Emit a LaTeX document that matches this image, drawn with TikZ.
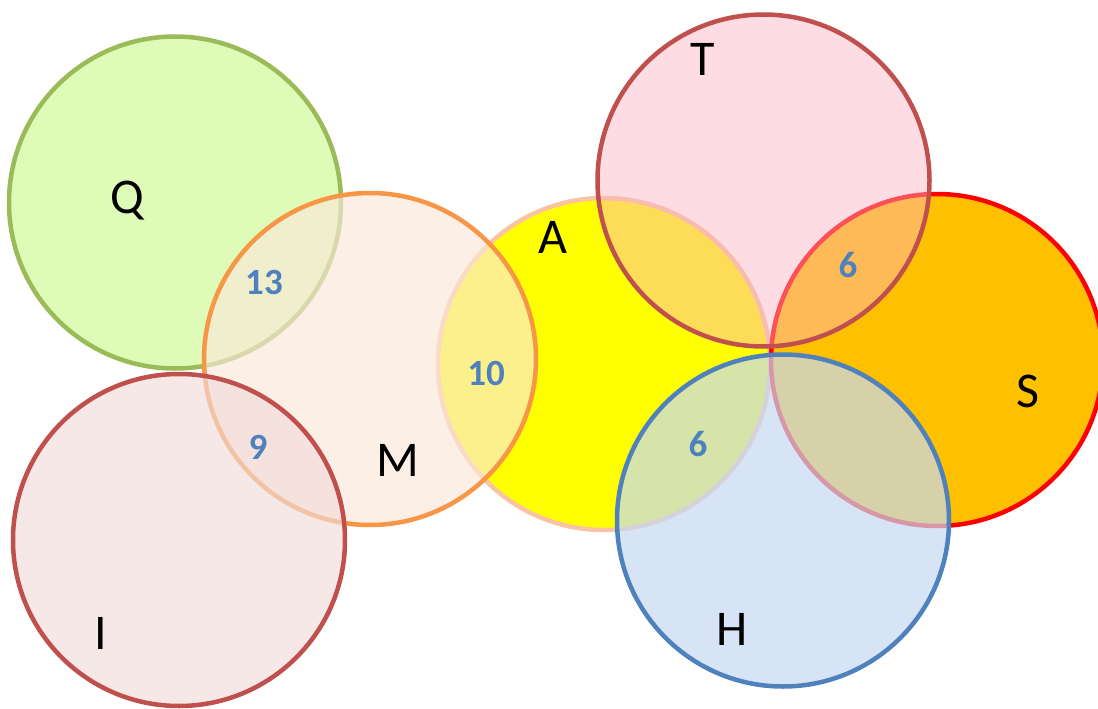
\documentclass[tikz,border=0pt]{standalone}
\usepackage{fontspec}
\setmainfont{Carlito}
\definecolor{qfill}{HTML}{DEFCB8}
\definecolor{qline}{HTML}{9BBB59}
\definecolor{afill}{HTML}{FFFF00}
\definecolor{aline}{HTML}{F9C4A4}
\definecolor{sfill}{HTML}{FFC000}
\definecolor{sline}{HTML}{FF0000}
\definecolor{mfill}{RGB}{251,232,217}
\definecolor{mline}{HTML}{F79646}
\definecolor{ifill}{RGB}{242,220,219}
\definecolor{iline}{HTML}{C0504D}
\definecolor{tfill}{RGB}{251,180,193}
\definecolor{tline}{HTML}{C0504D}
\definecolor{hfill}{HTML}{C6D9F1}
\definecolor{hline}{HTML}{4F81BD}
\definecolor{numcol}{HTML}{4F81BD}
\begin{document}
\begin{tikzpicture}[x=1pt,y=-1pt,
  venn/.style={circle,minimum size=332pt,inner sep=0pt,line width=4.5pt},
  letter/.style={anchor=base,inner sep=0pt,font=\fontsize{50}{50}\selectfont},
  num/.style={anchor=base,inner sep=0pt,text=numcol,font=\fontsize{37}{37}\selectfont\bfseries}]
\useasboundingbox (0,0) rectangle (1098,709);
\clip (0,0) rectangle (1098,709);
\fill[white] (0,0) rectangle (1098,709);
% bottom layer
\node[venn,fill=qfill,draw=qline] (Qc) at (175,202.5) {};
\node[venn,fill=afill,draw=aline] (Ac) at (604,364) {};
\node[venn,fill=sfill,draw=sline] (Sc) at (937,360) {};
% translucent layers
\node[venn,fill=mfill,fill opacity=0.65,draw=mline,draw opacity=1] (Mc) at (370,359) {};
\node[venn,fill=ifill,fill opacity=0.65,draw=iline,draw opacity=1] (Ic) at (179,540) {};
\node[venn,fill=tfill,fill opacity=0.45,draw=tline,draw opacity=1] (Tc) at (763.5,180.5) {};
\node[venn,fill=hfill,fill opacity=0.7,draw=hline,draw opacity=1] (Hc) at (783,520.5) {};
% set labels
\node[letter] (Q) at (127,213) {Q};
\node[letter] (M) at (398,476) {M};
\node[letter] (I) at (101,649) {I};
\node[letter] (A) at (553,253) {A};
\node[letter] (T) at (703,75) {T};
\node[letter] (H) at (732,645) {H};
\node[letter] (S) at (1028,407) {S};
% intersection counts
\node[num] (n13) at (264,294) {13};
\node[num] (n10) at (486,385) {10};
\node[num] (n9) at (258,459) {9};
\node[num] (n6a) at (848,277) {6};
\node[num] (n6b) at (698,456) {6};
\end{tikzpicture}
\end{document}
